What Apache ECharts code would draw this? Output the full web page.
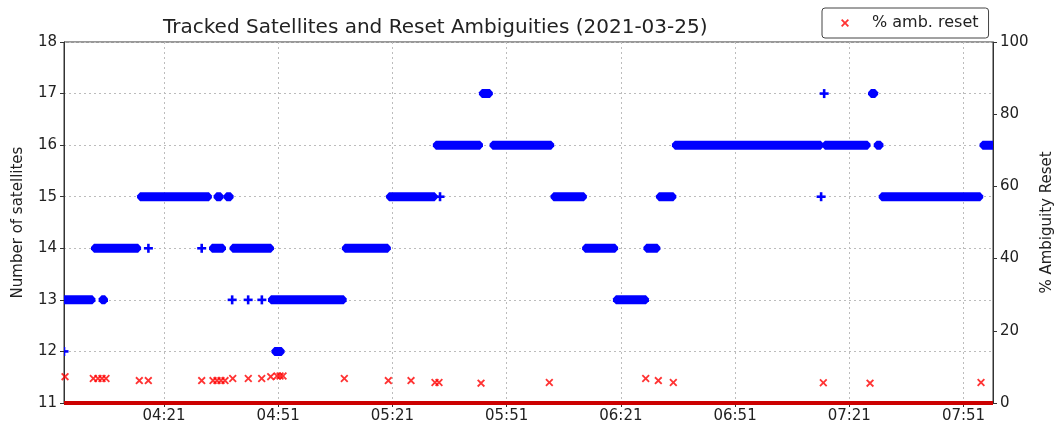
<!DOCTYPE html>
<html>
<head>
<meta charset="utf-8">
<script src="https://cdn.jsdelivr.net/npm/echarts@6/dist/echarts.min.js"></script>
<style>
  html, body { margin: 0; padding: 0; background: #fff; }
  #chart { width: 1054px; height: 430px; }
</style>
</head>
<body>
<div id="chart"></div>
<script>
// times are minutes after midnight (2021-03-25)
const timeMin = 234.73;
const timeMax = 478.75;
const tickTimes = [261, 291, 321, 351, 381, 411, 441, 471];

// runs of constant satellite count: start, end, number of satellites
const satStart = [
  344.9, 434.4, 447.1,
  332.8, 347.7, 395.6, 435.0, 448.6, 476.4,
  255.1, 275.2, 277.8, 320.5, 333.5, 363.7, 391.4, 433.6, 449.9,
  243.0, 256.9, 270.9, 274.0, 279.4, 308.9, 372.0, 388.1,
  234.73, 245.0, 278.9, 283.1, 286.7, 289.5, 380.1,
  234.73, 290.4
];
const satEnd = [
  346.2, 434.4, 447.4,
  343.6, 362.3, 433.1, 445.4, 448.8, 478.75,
  272.4, 275.5, 278.1, 331.7, 333.5, 370.9, 394.4, 433.6, 475.0,
  253.8, 256.9, 270.9, 276.1, 288.7, 319.4, 379.1, 390.2,
  241.8, 245.1, 278.9, 283.1, 286.7, 307.8, 387.2,
  234.73, 291.5
];
const satCount = [
  17, 17, 17,
  16, 16, 16, 16, 16, 16,
  15, 15, 15, 15, 15, 15, 15, 15, 15,
  14, 14, 14, 14, 14, 14, 14, 14,
  13, 13, 13, 13, 13, 13, 13,
  12, 12
];

// epochs where ambiguities were reset, and the percentage reset
const resetTime = [
  235.0, 242.43, 243.66, 244.71, 245.76, 254.51, 256.88, 270.90,
  273.87, 274.92, 275.97, 277.02, 279.05, 283.14, 286.66, 289.03,
  290.68, 291.47, 292.26, 308.36, 319.92, 325.88, 332.18, 333.23,
  344.27, 362.21, 387.53, 390.84, 394.78, 434.18, 446.45, 475.60
];
const resetPct = [
  7.3, 6.8, 6.8, 6.8, 6.8, 6.2, 6.2, 6.2,
  6.2, 6.2, 6.2, 6.2, 6.8, 6.8, 6.8, 7.3,
  7.5, 7.5, 7.5, 6.8, 6.2, 6.2, 5.7, 5.7,
  5.5, 5.7, 6.8, 6.2, 5.7, 5.6, 5.5, 5.7
];

const BLUE = '#0000ff';
const RED = '#ff0000';
const FONT = 'DejaVu Sans';
const xMark = 'path://M0,1.6L1.6,0L5,3.4L8.4,0L10,1.6L6.6,5L10,8.4L8.4,10L5,6.6L1.6,10L0,8.4L3.4,5Z';

const fmtTime = (v) => {
  const h = Math.floor(v / 60);
  const m = Math.round(v - h * 60);
  return String(h).padStart(2, '0') + ':' + String(m).padStart(2, '0');
};

// draw one run of epochs as a band of '+' markers
const renderRun = (params, api) => {
  const y = api.value(2);
  const a = api.coord([api.value(0), y]);
  const b = api.coord([api.value(1), y]);
  const h = 4.5;
  if (api.value(1) === api.value(0)) {
    // single epoch: one '+'
    return {
      type: 'group',
      children: [
        { type: 'rect', shape: { x: a[0] - 4.5, y: a[1] - 1.3, width: 9, height: 2.6 }, style: { fill: BLUE } },
        { type: 'rect', shape: { x: a[0] - 1.3, y: a[1] - 4.5, width: 2.6, height: 9 }, style: { fill: BLUE } }
      ]
    };
  }
  return {
    type: 'polygon',
    shape: {
      points: [
        [a[0] - 4.5, a[1] - 1.3], [a[0] - 1.5, a[1] - h], [b[0] + 1.5, b[1] - h], [b[0] + 4.5, b[1] - 1.3],
        [b[0] + 4.5, b[1] + 1.3], [b[0] + 1.5, b[1] + h], [a[0] - 1.5, a[1] + h], [a[0] - 4.5, a[1] + 1.3]
      ]
    },
    style: { fill: BLUE }
  };
};

const chart = echarts.init(document.getElementById('chart'));

const axisText = { color: '#222', fontFamily: FONT, fontSize: 15 };
const gridDash = { color: '#bcbcbc', type: [2, 3], width: 1 };

const option = {
  animation: false,
  title: {
    text: 'Tracked Satellites and Reset Ambiguities (2021-03-25)',
    left: 163,
    top: 18,
    padding: 0,
    textStyle: { color: '#222', fontFamily: FONT, fontSize: 20, fontWeight: 'normal' }
  },
  legend: {
    left: 822,
    top: 8,
    padding: [7, 10, 7, 19],
    borderColor: '#444',
    borderWidth: 1,
    borderRadius: 3,
    itemWidth: 8,
    itemHeight: 8,
    data: [{ name: '% amb. reset', icon: xMark }],
    textStyle: { color: '#222', fontFamily: FONT, fontSize: 16, padding: [0, 0, 0, 18] }
  },
  grid: {
    left: 64, right: 61, top: 42, bottom: 27,
    show: true, borderColor: '#333', borderWidth: 1,
    outerBoundsMode: 'none'
  },
  xAxis: {
    type: 'value',
    min: timeMin,
    max: timeMax,
    axisLine: { lineStyle: { color: '#333' } },
    axisTick: { length: 4, customValues: tickTimes, lineStyle: { color: '#333' } },
    axisLabel: Object.assign({ customValues: tickTimes, margin: 6, formatter: fmtTime }, axisText),
    splitLine: { show: true, lineStyle: gridDash }
  },
  yAxis: [
    {
      type: 'value',
      min: 11, max: 18, interval: 1,
      name: 'Number of satellites',
      nameLocation: 'middle',
      nameGap: 38,
      nameRotate: 90,
      nameTextStyle: { color: '#222', fontFamily: FONT, fontSize: 15 },
      axisLine: { show: true, lineStyle: { color: '#333' } },
      axisTick: { show: true, length: 4, lineStyle: { color: '#333' } },
      axisLabel: Object.assign({ margin: 7 }, axisText),
      splitLine: { show: true, lineStyle: gridDash }
    },
    {
      type: 'value',
      min: 0, max: 100, interval: 20,
      position: 'right',
      name: '% Ambiguity Reset',
      nameLocation: 'middle',
      nameGap: 42,
      nameRotate: 90,
      nameTextStyle: { color: '#222', fontFamily: FONT, fontSize: 15 },
      axisLine: { show: true, lineStyle: { color: '#333' } },
      axisTick: { show: true, length: 4, lineStyle: { color: '#333' } },
      axisLabel: Object.assign({ margin: 7 }, axisText),
      splitLine: { show: false }
    }
  ],
  series: [
    {
      name: 'satellites',
      type: 'custom',
      yAxisIndex: 0,
      clip: true,
      renderItem: renderRun,
      encode: { x: [0, 1], y: 2 },
      data: satStart.map((s, i) => [s, satEnd[i], satCount[i]])
    },
    {
      name: 'no reset',
      type: 'line',
      yAxisIndex: 1,
      showSymbol: false,
      symbol: 'none',
      lineStyle: { color: '#cc0000', width: 4 },
      data: [[timeMin, 0], [timeMax, 0]],
      z: 4
    },
    {
      name: '% amb. reset',
      type: 'scatter',
      yAxisIndex: 1,
      symbol: xMark,
      symbolSize: 8,
      itemStyle: { color: RED },
      data: resetTime.map((t, i) => [t, resetPct[i]]),
      z: 5
    }
  ]
};

chart.setOption(option);
window.addEventListener('resize', () => chart.resize());
</script>
</body>
</html>
